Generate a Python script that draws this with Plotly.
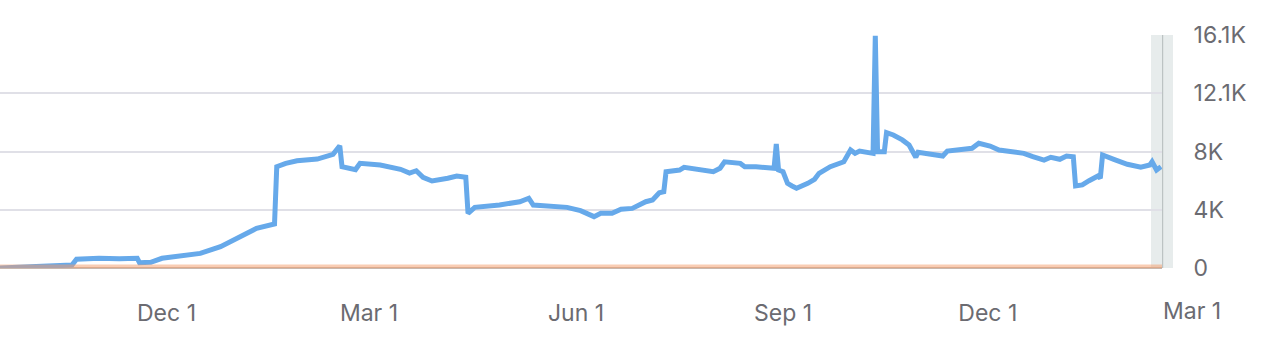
import plotly.graph_objects as go

# ---- data ----
dates = [
    "2022-09-18", "2022-10-04", "2022-10-20", "2022-10-22", "2022-11-01", "2022-11-10",
    "2022-11-18", "2022-11-19", "2022-11-24", "2022-11-29", "2022-12-08", "2022-12-16",
    "2022-12-25", "2022-12-31", "2023-01-04", "2023-01-10", "2023-01-18", "2023-01-19",
    "2023-01-23", "2023-01-28", "2023-02-06", "2023-02-13", "2023-02-16", "2023-02-17",
    "2023-02-23", "2023-02-25", "2023-03-06", "2023-03-15", "2023-03-19", "2023-03-22",
    "2023-03-25", "2023-03-29", "2023-04-05", "2023-04-09", "2023-04-13", "2023-04-14",
    "2023-04-17", "2023-04-28", "2023-05-07", "2023-05-11", "2023-05-13", "2023-05-24",
    "2023-05-28", "2023-06-03", "2023-06-09", "2023-06-12", "2023-06-17", "2023-06-21",
    "2023-06-26", "2023-07-02", "2023-07-05", "2023-07-08", "2023-07-10", "2023-07-11",
    "2023-07-17", "2023-07-19", "2023-07-23", "2023-07-29", "2023-08-01", "2023-08-04",
    "2023-08-06", "2023-08-13", "2023-08-15", "2023-08-20", "2023-08-28", "2023-08-29",
    "2023-08-30", "2023-09-01", "2023-09-03", "2023-09-05", "2023-09-07", "2023-09-12",
    "2023-09-15", "2023-09-17", "2023-09-22", "2023-09-28", "2023-10-01", "2023-10-03",
    "2023-10-05", "2023-10-11", "2023-10-12", "2023-10-13", "2023-10-16", "2023-10-17",
    "2023-10-20", "2023-10-24", "2023-10-27", "2023-10-30", "2023-10-31", "2023-11-05",
    "2023-11-11", "2023-11-13", "2023-11-19", "2023-11-24", "2023-11-27", "2023-12-02",
    "2023-12-06", "2023-12-10", "2023-12-17", "2023-12-21", "2023-12-26", "2023-12-29",
    "2024-01-02", "2024-01-05", "2024-01-08", "2024-01-09", "2024-01-12", "2024-01-15",
    "2024-01-19", "2024-01-20", "2024-01-21", "2024-01-26", "2024-02-01", "2024-02-07",
    "2024-02-11", "2024-02-12", "2024-02-14", "2024-02-16",
]
values = [
    0, 90, 200, 600, 670, 640,
    670, 370, 390, 670, 850, 1010,
    1470, 1935, 2330, 2740, 3040, 7000,
    7230, 7410, 7530, 7850, 8450, 7000,
    6800, 7230, 7120, 6820, 6560, 6720,
    6270, 6010, 6200, 6360, 6270, 3780,
    4190, 4350, 4580, 4820, 4350, 4280,
    4190, 3960, 3550, 3780, 3780, 4060,
    4120, 4580, 4700, 5200, 5270, 6650,
    6770, 6960, 6890, 6720, 6650, 6890,
    7340, 7230, 7000, 7000, 6890, 8570,
    6770, 6650, 5850, 5670, 5510, 5850,
    6130, 6540, 7000, 7340, 8150, 7920,
    8080, 7920, 16050, 8040, 8040, 9350,
    9190, 8850, 8500, 7650, 8000, 7880,
    7740, 8080, 8150, 8270, 8620, 8430,
    8150, 8040, 7920, 7690, 7460, 7650,
    7510, 7740, 7690, 5670, 5740, 6030,
    6360, 6200, 7810, 7510, 7170, 6960,
    7120, 7340, 6770, 7000,
]
baseline_dates = ["2022-09-18", "2024-02-16 10:00"]
baseline_values = [0, 0]

x_range = ["2022-09-18", "2024-02-16 10:00"]
y_tickvals = [0, 4025, 8050, 12075, 16100]
y_ticktext = ["0", "4K", "8K", "12.1K", "16.1K"]
x_tickvals = ["2022-12-01", "2023-03-01", "2023-06-01", "2023-09-01", "2023-12-01"]
x_ticktext = ["Dec 1", "Mar 1", "Jun 1", "Sep 1", "Dec 1"]
extra_tick_text = "Mar 1"

FONT = "Inter, 'Helvetica Neue', Arial, sans-serif"
TICK_COLOR = "#6b6b71"
FS = 23
BAND = "#e7ecec"

fig = go.Figure()
fig.add_trace(go.Scatter(
    x=dates, y=values, mode="lines",
    line=dict(color="#66a9ea", width=5),
    hoverinfo="skip",
))
fig.add_trace(go.Scatter(
    x=baseline_dates, y=baseline_values, mode="lines",
    line=dict(color="rgba(244,155,105,0.5)", width=7),
    hoverinfo="skip", cliponaxis=False,
))

# shaded "current period" band: inner part under the data, outer part past the plot edge
fig.add_shape(type="rect", xref="paper", yref="paper",
              x0=1151 / 1162, x1=1.0, y0=0, y1=1,
              fillcolor=BAND, line=dict(width=0), layer="below")
fig.add_shape(type="rect", xref="paper", yref="paper",
              x0=1163.2 / 1162, x1=1173 / 1162, y0=0, y1=1,
              fillcolor=BAND, line=dict(width=0), layer="above")

# label for the Mar 1 tick that lies just beyond the plotted range
fig.add_annotation(x=1191.5 / 1162, xref="paper", xanchor="center",
                   y=0, yref="paper", yanchor="top", yshift=-27,
                   showarrow=False, text=extra_tick_text,
                   font=dict(family=FONT, size=FS, color=TICK_COLOR))

fig.update_layout(
    width=1268, height=340,
    margin=dict(l=0, r=106, t=35, b=72),
    paper_bgcolor="white", plot_bgcolor="white",
    showlegend=False,
    font=dict(family=FONT, size=FS, color=TICK_COLOR),
    xaxis=dict(
        type="date", range=x_range,
        tickvals=x_tickvals, ticktext=x_ticktext,
        showgrid=False, zeroline=False, showline=False,
        ticks="outside", ticklen=24, tickcolor="rgba(0,0,0,0)",
        tickfont=dict(family=FONT, size=FS, color=TICK_COLOR),
    ),
    yaxis=dict(
        side="right", range=[0, 16100],
        tickvals=y_tickvals, ticktext=y_ticktext,
        showgrid=True, gridcolor="#e0e0e7", gridwidth=2,
        zeroline=True, zerolinecolor="#c9b8ae", zerolinewidth=2,
        showline=True, linecolor="#bcc3c3", linewidth=2,
        ticks="outside", ticklen=25, tickcolor="rgba(0,0,0,0)",
        tickfont=dict(family=FONT, size=FS, color=TICK_COLOR),
    ),
)

fig.write_html("out.html")
